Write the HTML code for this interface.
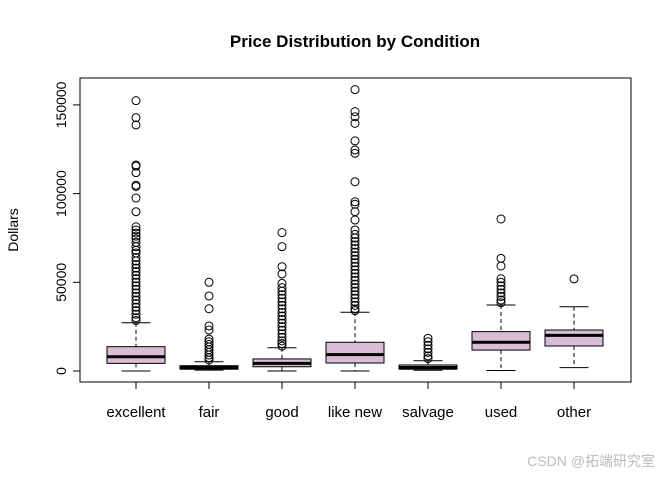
<!DOCTYPE html>
<html><head><meta charset="utf-8"><style>
body{margin:0;background:#fff;font-family:"Liberation Sans",Arial,sans-serif}
svg text{font-family:"Liberation Sans",Arial,sans-serif}
</style></head><body>
<svg id="c" width="672" height="480" xmlns="http://www.w3.org/2000/svg">
<text x="355" y="47" text-anchor="middle" font-size="17" font-weight="bold">Price Distribution by Condition</text>
<text transform="translate(18,230) rotate(-90)" text-anchor="middle" font-size="14">Dollars</text>
<rect x="80" y="78" width="551" height="304" fill="none" stroke="#000"/>
<g id="g"></g>
<text x="655" y="466" text-anchor="end" font-size="14" fill="#bbb" font-family="Liberation Sans, Noto Sans CJK SC, sans-serif">CSDN @拓端研究室</text>
</svg>
<script>
const categories=["excellent","fair","good","like new","salvage","used","other"];
const lowerWhisker=[0,500,0,0,400,300,1900];
const q1=[4300,1000,2400,4500,1000,11800,14100];
const medians=[8000,2000,4300,9200,2000,16200,20100];
const q3=[13700,3000,6800,16200,3400,22200,23100];
const upperWhisker=[27200,5200,13100,33100,5800,37200,36200];
const outliersExcellent=[152400,142800,138700,116100,115500,111800,104700,104000,97500,89800,81300,79500,77800,76000,74500,72500,70100,68000,66500,64000,62000,60000,58000,56000,54000,52000,50000,48000,46000,44000,42000,40000,38000,36000,34000,32000,30000,28500];
const outliersFair=[50000,42300,35100,25400,23100,18000,16500,15000,13500,12000,10500,9000,7500,6200];
const outliersGood=[78000,70100,58800,54700,49400,47000,45000,43000,41000,39000,37000,35000,33000,31000,29000,27000,25000,23000,21000,19000,17000,15500,14000];
const outliersLikeNew=[158600,146200,143300,139600,129700,124600,122700,106700,95400,94000,89800,85100,79500,77000,75000,73000,71000,69000,67000,65000,63000,61000,59000,57000,55000,53000,51000,49000,47000,45000,43000,41000,39000,37000,35000,34000];
const outliersSalvage=[18400,16500,14500,12500,10500,8500,7000];
const outliersUsed=[85700,63500,59200,52000,50000,48000,46000,44000,42000,40000,38500];
const outliersOther=[51900];
const outliers=[outliersExcellent,outliersFair,outliersGood,outliersLikeNew,outliersSalvage,outliersUsed,outliersOther];
const yTicks=[0,50000,100000,150000];

const NS="http://www.w3.org/2000/svg";
const g=document.getElementById('g');
const y=v=>371-v*(88.7/50000);
const x=i=>136+i*73;
function mk(t,a){const e=document.createElementNS(NS,t);for(const k in a)e.setAttribute(k,a[k]);g.appendChild(e);return e;}
// y axis
let ax=mk('line',{x1:80,x2:80,y1:y(0),y2:y(150000),stroke:'#000'});


yTicks.forEach(v=>{
 let t=mk('line',{x1:73,x2:80,y1:y(v),y2:y(v),stroke:'#000'});
 
 
 let l=mk('text',{transform:`translate(66,${y(v)}) rotate(-90)`,'text-anchor':'middle','font-size':14});
 l.textContent=v;
 
 
});
categories.forEach((c,i)=>{
 const cx=x(i),hw=29,cw=14.5;
 let tk=mk('line',{x1:cx,x2:cx,y1:382,y2:389,stroke:'#000'});
 
 
 let lb=mk('text',{x:cx,y:417,'text-anchor':'middle','font-size':15});
 lb.textContent=c;
 
 
 let w1=mk('line',{x1:cx,x2:cx,y1:y(upperWhisker[i]),y2:y(q3[i]),stroke:'#000','stroke-dasharray':'4,3'});
 
 
 let w2=mk('line',{x1:cx,x2:cx,y1:y(q1[i]),y2:y(lowerWhisker[i]),stroke:'#000','stroke-dasharray':'4,3'});
 
 
 let c1=mk('line',{x1:cx-cw,x2:cx+cw,y1:y(upperWhisker[i]),y2:y(upperWhisker[i]),stroke:'#000'});
 
 
 let c2=mk('line',{x1:cx-cw,x2:cx+cw,y1:y(lowerWhisker[i]),y2:y(lowerWhisker[i]),stroke:'#000'});
 
 
 let b=mk('rect',{x:cx-hw,y:y(q3[i]),width:hw*2,height:Math.max(1,y(q1[i])-y(q3[i])),fill:'#d8bcd8',stroke:'#000'});
 
 
 let m=mk('line',{x1:cx-hw,x2:cx+hw,y1:y(medians[i]),y2:y(medians[i]),stroke:'#000','stroke-width':3});
 
 
 outliers[i].forEach(v=>{
  let o=mk('circle',{cx:cx,cy:y(v),r:4,fill:'none',stroke:'#000','stroke-width':1});
  
  
 });
});
</script>
</body></html>
